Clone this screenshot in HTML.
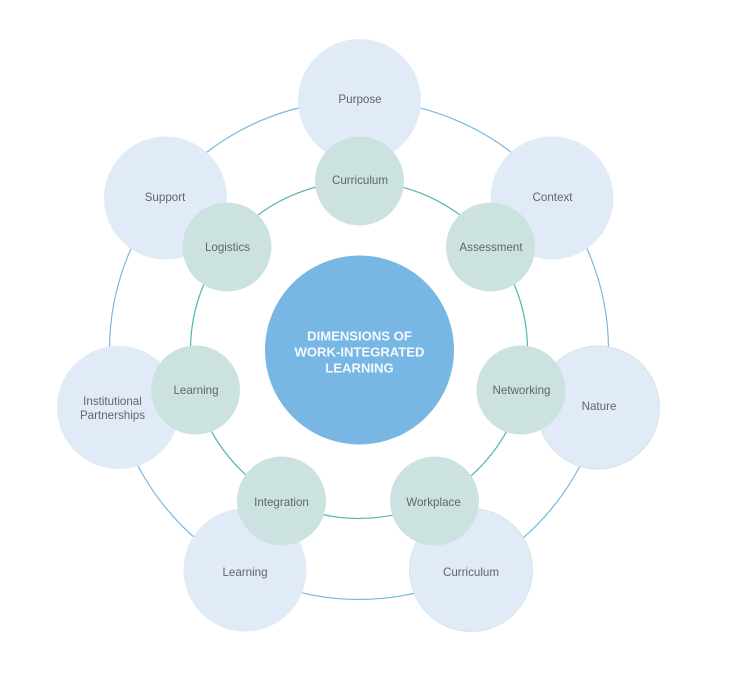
<!DOCTYPE html>
<html>
<head>
<meta charset="utf-8">
<style>
html,body{margin:0;padding:0;background:#fff}
svg{display:block}
text{font-family:"Liberation Sans",sans-serif;font-size:11.6px;fill:#636569;text-anchor:middle}
.c{font-size:13.1px;font-weight:bold;fill:#f4f9fd}
</style>
</head>
<body>
<svg width="738" height="686" viewBox="0 0 738 686" xmlns="http://www.w3.org/2000/svg">
<rect width="738" height="686" fill="#fff"/>
<circle cx="359" cy="350" r="249.5" fill="none" stroke="#78b8e2" stroke-width="1.2"/>
<g fill="#e1ebf7">
<circle cx="359.500" cy="100.500" r="61.500"/>
<circle cx="552" cy="198" r="61.500"/>
<circle cx="165.500" cy="198" r="61.500"/>
<circle cx="598" cy="407.500" r="61.500" stroke="#c9e0e4" stroke-width="0.7"/>
<circle cx="118.500" cy="407.500" r="61.500"/>
<circle cx="245" cy="570" r="61.500"/>
<circle cx="471" cy="570" r="61.500" stroke="#c9e0e4" stroke-width="0.7"/>
</g>
<circle cx="359" cy="350" r="168.500" fill="none" stroke="#55b3b0" stroke-width="1.2"/>
<g fill="#cbe2e0">
<circle cx="359.500" cy="181" r="44.500"/>
<circle cx="490.500" cy="247" r="44.500"/>
<circle cx="227" cy="247" r="44.500"/>
<circle cx="521" cy="390" r="44.500"/>
<circle cx="195.500" cy="390" r="44.500"/>
<circle cx="281.500" cy="501" r="44.500"/>
<circle cx="434.500" cy="501" r="44.500"/>
</g>
<circle cx="359.500" cy="350" r="94.500" fill="#78b6e4"/>
<text class="c" x="359.500" y="340.500">DIMENSIONS OF</text>
<text class="c" x="359.500" y="356.500">WORK-INTEGRATED</text>
<text class="c" x="359.500" y="372.500">LEARNING</text>
<text x="360" y="103">Purpose</text>
<text x="552.500" y="201">Context</text>
<text x="165" y="201">Support</text>
<text x="599" y="410">Nature</text>
<text x="112.500" y="405">Institutional</text>
<text x="112.500" y="419">Partnerships</text>
<text x="245" y="576">Learning</text>
<text x="471" y="576">Curriculum</text>
<text x="360" y="184">Curriculum</text>
<text x="491" y="251">Assessment</text>
<text x="227.500" y="251">Logistics</text>
<text x="521.500" y="394">Networking</text>
<text x="196" y="394">Learning</text>
<text x="281.500" y="506">Integration</text>
<text x="433.500" y="506">Workplace</text>
</svg>
</body>
</html>
